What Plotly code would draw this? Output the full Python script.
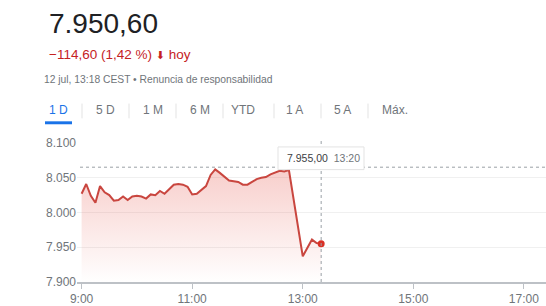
import plotly.graph_objects as go

# ---------------- data ----------------
times = ["09:00", "09:05", "09:10", "09:15", "09:20", "09:25", "09:30", "09:35",
         "09:40", "09:45", "09:50", "09:55", "10:00", "10:05", "10:10", "10:15",
         "10:20", "10:25", "10:30", "10:35", "10:40", "10:45", "10:50", "10:55",
         "11:00", "11:05", "11:10", "11:15", "11:20", "11:25", "11:30", "11:35",
         "11:40", "11:45", "11:50", "11:55", "12:00", "12:05", "12:10", "12:15",
         "12:20", "12:25", "12:30", "12:35", "12:40", "12:45",
         "13:00", "13:05", "13:10", "13:15", "13:20"]
values = [8027, 8041, 8024, 8014, 8038, 8029, 8025, 8017,
          8018, 8023, 8018, 8023, 8024, 8023, 8020, 8026,
          8025, 8031, 8027, 8034, 8040, 8041, 8040, 8037,
          8026, 8027, 8033, 8038, 8054, 8062, 8057, 8051,
          8046, 8045, 8044, 8040, 8040, 8044, 8048, 8050,
          8051, 8055, 8057, 8060, 8059, 8061,
          7937, 7949, 7961, 7956, 7955]
prev_close = 8065.2
y_ticks = [7900, 7950, 8000, 8050, 8100]
y_tick_labels = ["7.900", "7.950", "8.000", "8.050", "8.100"]
x_ticks = ["09:00", "11:00", "13:00", "15:00", "17:00"]
x_tick_labels = ["9:00", "11:00", "13:00", "15:00", "17:00"]
tabs = ["1 D", "5 D", "1 M", "6 M", "YTD", "1 A", "5 A", "Máx."]
price_text = "7.950,60"
change_text = ("−114,60 (1,42 %) <span style='font-family:DejaVu Sans;font-size:11px'>"
               "⬇</span> hoy")
info_text = "12 jul, 13:18 CEST • Renuncia de responsabilidad"
tip_value = "7.955,00"
tip_time = "13:20"

DAY = "2022-07-12 "
xs = [DAY + t for t in times]

# ---------------- geometry helpers ----------------
W, H = 546, 306
L, R, T, B = 77, 546, 143, 284


def px(x):
    return (x - L) / (R - L)


def py(y):
    return (B - y) / (B - T)


RED = "#c9463f"
GRAY = "#70757a"
DARK = "#202124"
BLUE = "#1a73e8"
FONT = "Liberation Sans, Arial, sans-serif"

fig = go.Figure()
fig.add_trace(go.Scatter(
    x=xs, y=values, mode="lines",
    line=dict(color=RED, width=2),
    fill="tozeroy",
    fillgradient=dict(type="vertical", start=7900, stop=8065,
                      colorscale=[[0, "rgba(230,90,80,0.0)"],
                                  [1, "rgba(230,90,80,0.30)"]]),
    hoverinfo="skip", showlegend=False,
))
fig.add_trace(go.Scatter(
    x=[xs[-1]], y=[values[-1]], mode="markers",
    marker=dict(color="#d93025", size=7),
    hoverinfo="skip", showlegend=False,
))

shapes = []
# previous close dotted line
shapes.append(dict(type="line", xref="paper", yref="y", x0=px(80), x1=1,
                   y0=prev_close, y1=prev_close,
                   line=dict(color="#9aa0a6", width=1, dash="dot")))
# vertical dotted at last point
shapes.append(dict(type="line", xref="x", yref="paper", x0=xs[-1], x1=xs[-1],
                   y0=0, y1=py(141),
                   line=dict(color="#9aa0a6", width=1, dash="dot")))
# tab separators
for sx in [82, 129, 176, 223, 274, 321, 368]:
    shapes.append(dict(type="line", xref="paper", yref="paper",
                       x0=px(sx), x1=px(sx), y0=py(103), y1=py(118),
                       line=dict(color="#e3e3e3", width=1)))
# blue underline under 1 D
shapes.append(dict(type="rect", xref="paper", yref="paper",
                   x0=px(45), x1=px(72), y0=py(124), y1=py(121),
                   fillcolor=BLUE, line=dict(width=0)))
# tooltip box
shapes.append(dict(type="rect", xref="paper", yref="paper",
                   x0=px(278), x1=px(364), y0=py(170), y1=py(147),
                   fillcolor="white", line=dict(color="#e3e3e3", width=1),
                   layer="above"))

annotations = []
annotations.append(dict(xref="paper", yref="paper", x=px(47), y=py(22),
                        text=price_text, showarrow=False, xanchor="left",
                        yanchor="middle", font=dict(size=28, color=DARK, family=FONT)))
annotations.append(dict(xref="paper", yref="paper", x=px(47), y=py(53),
                        text=change_text, showarrow=False, xanchor="left",
                        yanchor="middle", font=dict(size=13.5, color="#c5221f", family=FONT)))
annotations.append(dict(xref="paper", yref="paper", x=px(42), y=py(79),
                        text=info_text, showarrow=False, xanchor="left",
                        yanchor="middle", font=dict(size=10.3, color=GRAY, family=FONT)))
tab_centers = [58.5, 105, 153, 200, 243, 294, 342, 394.5]
for lab, cx in zip(tabs, tab_centers):
    annotations.append(dict(xref="paper", yref="paper", x=px(cx), y=py(110),
                            text=lab, showarrow=False, xanchor="center",
                            yanchor="middle",
                            font=dict(size=12, color=BLUE if lab == "1 D" else GRAY,
                                      family=FONT)))
annotations.append(dict(xref="paper", yref="paper", x=px(285), y=py(158.5),
                        text=f"<span style='color:#3c4043'>{tip_value}</span>"
                             f"  <span style='color:{GRAY}'>{tip_time}</span>",
                        showarrow=False, xanchor="left", yanchor="middle",
                        font=dict(size=10.5, family=FONT)))

fig.update_layout(
    width=W, height=H,
    margin=dict(l=L, r=W - R, t=T, b=H - B),
    paper_bgcolor="white", plot_bgcolor="white",
    shapes=shapes, annotations=annotations,
    xaxis=dict(type="date",
               range=[DAY + "08:55", DAY + "17:24"],
               tickvals=[DAY + t for t in x_ticks], ticktext=x_tick_labels,
               showgrid=False, zeroline=False,
               showline=True, linecolor="#bdc1c6", linewidth=1.5,
               ticks="outside", ticklen=5, tickcolor="#bdc1c6",
               tickfont=dict(size=12, color=GRAY, family=FONT)),
    yaxis=dict(range=[7900, 8100], tickvals=y_ticks, ticktext=y_tick_labels,
               showgrid=True, gridcolor="#f0f0f0", gridwidth=1,
               zeroline=False, showline=False, ticks="",
               tickfont=dict(size=12, color=GRAY, family=FONT)),
)

fig.write_html("out.html")
